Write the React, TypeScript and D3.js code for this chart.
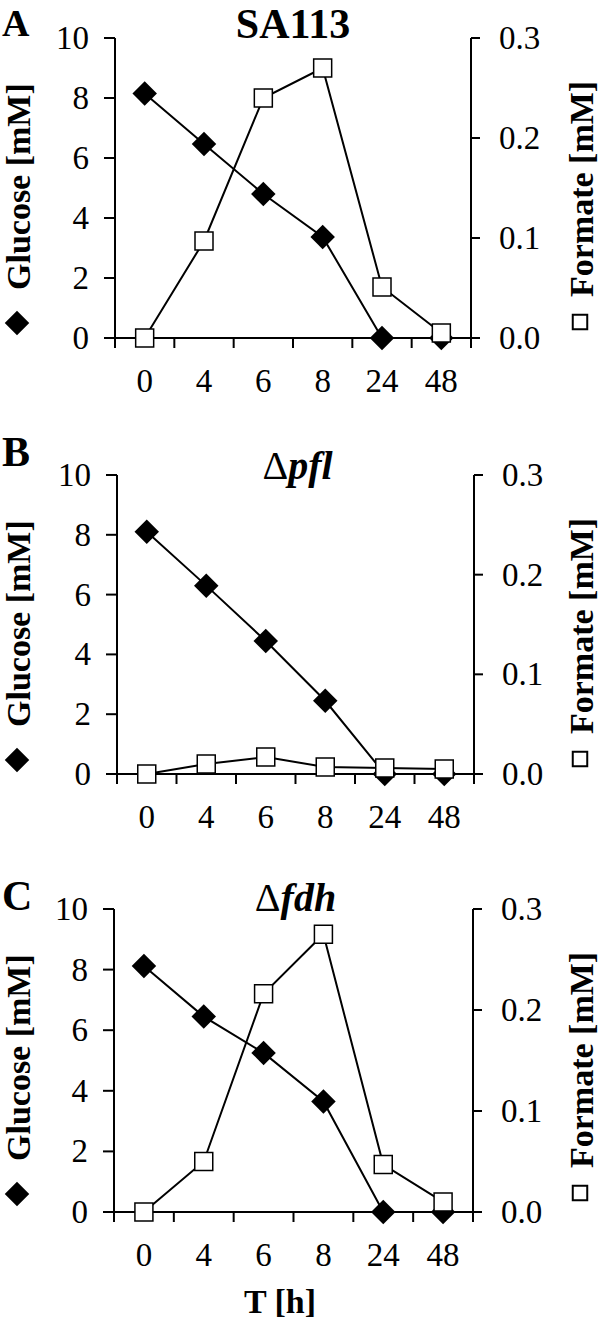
import React from 'react';
import * as d3 from 'd3';

// sampling times (h), shown as equally spaced categories
const timeLabels = ['0', '4', '6', '8', '24', '48'];

// glucose [mM], left axis
const glucoseSA113 = [8.15, 6.47, 4.8, 3.37, 0, 0];
const glucosePfl = [8.1, 6.3, 4.45, 2.45, 0, 0];
const glucoseFdh = [8.12, 6.45, 5.25, 3.65, 0, 0];

// formate [mM], right axis
const formateSA113 = [0, 0.097, 0.24, 0.27, 0.051, 0.005];
const formatePfl = [0, 0.01, 0.017, 0.007, 0.006, 0.005];
const formateFdh = [0, 0.05, 0.216, 0.275, 0.047, 0.01];

const leftTicks = [0, 2, 4, 6, 8, 10];
const rightTicks = [0, 0.1, 0.2, 0.3];

const panelLetters = ['A', 'B', 'C'];

const SERIF = '"Liberation Serif", "Times New Roman", serif';

const panels = [
    { letter: 0, glucose: glucoseSA113, formate: formateSA113, top: 38, bottom: 338, left: 115, right: 471, titleY: 38, letterY: 36, title: 'SA113', italic: false },
    { letter: 1, glucose: glucosePfl, formate: formatePfl, top: 475, bottom: 774, left: 117, right: 474, titleY: 479, letterY: 466, title: 'pfl', italic: true },
    { letter: 2, glucose: glucoseFdh, formate: formateFdh, top: 909, bottom: 1212, left: 114, right: 473, titleY: 911, letterY: 910, title: 'fdh', italic: true },
];

const Panel = ({ p, showXTitle }) => {
    const x = d3.scaleBand().domain(timeLabels).range([p.left, p.right]).padding(0);
    const yLeft = d3.scaleLinear().domain([0, 10]).range([p.bottom, p.top]);
    const yRight = d3.scaleLinear().domain([0, 0.3]).range([p.bottom, p.top]);
    const cx = (i) => x(timeLabels[i]) + x.bandwidth() / 2;

    const glucoseLine = d3.line().x((d, i) => cx(i)).y((d) => yLeft(d));
    const formateLine = d3.line().x((d, i) => cx(i)).y((d) => yRight(d));

    const diamond = d3.symbol().type(d3.symbolSquare).size(300)();
    const square = d3.symbol().type(d3.symbolSquare).size(324)();
    const legendSquare = d3.symbol().type(d3.symbolSquare).size(210)();

    // band boundaries for x ticks
    const boundaries = timeLabels.map((t) => x(t)).concat([p.right]);
    const midX = (p.left + p.right) / 2;

    return (
        <g>
            {/* panel letter */}
            <text x={2} y={p.letterY} fontFamily={SERIF} fontWeight="bold" fontSize={p.letter === 0 ? 38 : 42}>
                {panelLetters[p.letter]}
            </text>

            {/* title */}
            {p.italic ? (
                <text x={midX + 2} y={p.titleY} textAnchor="middle" fontFamily={SERIF} fontSize={40}>
                    <tspan>Δ</tspan>
                    <tspan fontWeight="bold" fontStyle="italic">{p.title}</tspan>
                </text>
            ) : (
                <text x={midX} y={p.titleY} textAnchor="middle" fontFamily={SERIF} fontWeight="bold" fontSize={42}>
                    {p.title}
                </text>
            )}

            {/* axes */}
            <g stroke="#000" strokeWidth={2} fill="none">
                <line x1={p.left} x2={p.left} y1={p.top} y2={p.bottom + 10} />
                <line x1={p.right} x2={p.right} y1={p.top} y2={p.bottom + 10} />
                <line x1={p.left - 11} x2={p.right + 9} y1={p.bottom} y2={p.bottom} />
                {leftTicks.map((t) => (
                    <line key={'lt' + t} x1={p.left - 11} x2={p.left} y1={yLeft(t)} y2={yLeft(t)} />
                ))}
                {rightTicks.map((t) => (
                    <line key={'rt' + t} x1={p.right} x2={p.right + 9} y1={yRight(t)} y2={yRight(t)} />
                ))}
                {boundaries.map((b, i) => (
                    <line key={'xt' + i} x1={b} x2={b} y1={p.bottom} y2={p.bottom + 10} />
                ))}
            </g>

            {/* tick labels */}
            <g fontFamily={SERIF} fontSize={33} fill="#000">
                {leftTicks.map((t) => (
                    <text key={'ll' + t} x={p.left - 26} y={yLeft(t) + 11} textAnchor="end">{t}</text>
                ))}
                {rightTicks.map((t) => (
                    <text key={'rl' + t} x={p.right + 28} y={yRight(t) + 11}>{d3.format('.1f')(t)}</text>
                ))}
                {timeLabels.map((t, i) => (
                    <text key={'xl' + t} x={cx(i)} y={p.bottom + 54} textAnchor="middle">{t}</text>
                ))}
            </g>

            {/* axis titles */}
            <path d={diamond} transform={`translate(17,${p.top + 285}) rotate(45)`} fill="#000" />
            <text transform={`translate(30,${p.top + 252}) rotate(-90)`} fontFamily={SERIF} fontWeight="bold" fontSize={34}>
                Glucose [mM]
            </text>
            <path d={legendSquare} transform={`translate(580,${p.top + 284})`} fill="#fff" stroke="#000" strokeWidth={2} />
            <text transform={`translate(593,${p.top + 259}) rotate(-90)`} fontFamily={SERIF} fontWeight="bold" fontSize={34}>
                Formate [mM]
            </text>

            {/* glucose series */}
            <path d={glucoseLine(p.glucose)} fill="none" stroke="#000" strokeWidth={2} />
            {p.glucose.map((v, i) => (
                <path key={'g' + i} d={diamond} transform={`translate(${cx(i)},${yLeft(v)}) rotate(45)`} fill="#000" />
            ))}

            {/* formate series */}
            <path d={formateLine(p.formate)} fill="none" stroke="#000" strokeWidth={2} />
            {p.formate.map((v, i) => (
                <path key={'f' + i} d={square} transform={`translate(${cx(i)},${yRight(v)})`} fill="#fff" stroke="#000" strokeWidth={1.5} />
            ))}

            {showXTitle && (
                <text x={280} y={1313} textAnchor="middle" fontFamily={SERIF} fontWeight="bold" fontSize={34}>
                    T [h]
                </text>
            )}
        </g>
    );
};

export default function App() {
    return (
        <svg
            width={600}
            height={1320}
            style={{ position: 'absolute', left: 0, top: 0, background: '#fff' }}
        >
            <rect width={600} height={1320} fill="#fff" />
            {panels.map((p, i) => (
                <Panel key={i} p={p} showXTitle={i === panels.length - 1} />
            ))}
        </svg>
    );
}
